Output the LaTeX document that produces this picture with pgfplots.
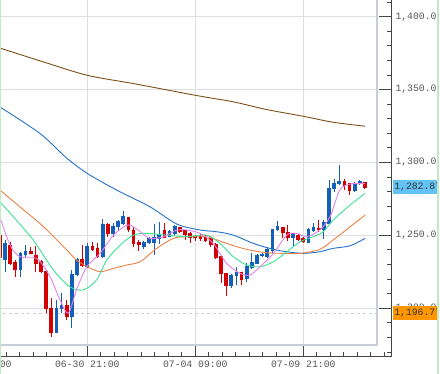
\documentclass[border=0pt]{standalone}
\usepackage{pgfplots}
\pgfplotsset{compat=1.18}
\usepackage{pgfplotstable}
\usepackage{fontspec}
\setmonofont{Liberation Mono}

\definecolor{cblue}{RGB}{20,95,185}
\definecolor{cred}{RGB}{210,0,0}
\definecolor{maBrown}{RGB}{125,80,25}
\definecolor{maBlue}{RGB}{35,115,205}
\definecolor{maOrange}{RGB}{235,130,70}
\definecolor{maGreen}{RGB}{60,225,150}
\definecolor{maPink}{RGB}{230,130,235}
\definecolor{gridc}{RGB}{222,222,222}
\definecolor{framec}{RGB}{200,206,216}
\definecolor{axisgray}{RGB}{70,70,70}
\definecolor{labelgray}{RGB}{85,85,85}
\definecolor{tagBlue}{RGB}{100,195,245}
\definecolor{tagOrange}{RGB}{255,150,0}
\definecolor{stripc}{RGB}{195,235,195}

% up (blue) candles
\pgfplotstableread{
i o h l c
5 1233.1 1246.8 1225.1 1244.5
8 1226.2 1238.8 1221.7 1237.7
9 1236.5 1243.3 1235.4 1239.3
15 1183.0 1206.0 1183.0 1200.0
16 1200.0 1210.7 1197.0 1202.3
18 1194.3 1226.3 1186.3 1223.5
19 1222.8 1234.2 1222.0 1233.6
21 1228.5 1245.0 1227.4 1242.2
24 1235.4 1261.2 1234.2 1257.8
26 1251.4 1258.7 1248.6 1256.4
27 1255.9 1260.5 1253.7 1259.4
28 1257.8 1266.9 1257.1 1262.8
32 1242.2 1246.0 1241.0 1245.0
33 1245.0 1249.0 1244.0 1247.7
34 1245.2 1258.0 1236.5 1248.4
35 1247.9 1258.9 1243.8 1250.9
37 1249.1 1253.7 1248.6 1253.0
38 1251.4 1257.0 1250.2 1255.9
49 1215.3 1223.5 1213.7 1222.8
50 1222.1 1228.5 1216.0 1224.4
52 1220.5 1230.8 1218.3 1228.5
53 1227.9 1238.1 1226.7 1231.7
54 1230.8 1237.2 1230.4 1236.5
55 1236.0 1237.7 1235.4 1236.8
56 1235.4 1241.8 1234.2 1240.4
57 1239.5 1254.5 1237.7 1254.1
58 1253.7 1260.0 1253.0 1255.9
61 1248.6 1251.8 1242.7 1251.4
64 1245.0 1254.8 1244.5 1254.1
65 1253.2 1258.7 1252.5 1255.5
67 1254.1 1260.5 1247.3 1258.7
68 1258.2 1287.9 1257.8 1282.2
69 1282.2 1288.4 1279.9 1285.6
70 1285.6 1298.2 1284.5 1287.4
73 1280.6 1286.8 1279.9 1285.2
74 1285.2 1287.9 1284.5 1286.8
}\upcandles

% down (red) candles
\pgfplotstableread{
i o h l c
4 1250.0 1253.0 1233.0 1235.0
6 1243.3 1245.6 1229.7 1230.8
7 1231.2 1233.1 1221.7 1226.2
10 1239.3 1242.2 1237.2 1237.7
11 1236.5 1242.7 1225.1 1230.8
12 1232.0 1233.0 1224.0 1225.0
13 1225.0 1226.0 1197.0 1200.0
14 1200.0 1207.0 1180.6 1183.0
17 1202.3 1206.0 1192.0 1194.3
20 1233.6 1243.4 1228.5 1229.0
22 1242.2 1245.7 1239.0 1240.0
23 1241.1 1244.5 1234.2 1235.4
25 1257.8 1258.2 1249.0 1251.4
29 1262.3 1262.8 1252.5 1253.7
30 1253.7 1256.0 1242.2 1244.5
31 1245.0 1246.8 1239.5 1243.4
36 1253.7 1258.7 1248.0 1248.6
39 1255.5 1256.0 1251.4 1252.5
40 1253.7 1254.0 1246.8 1250.2
41 1251.4 1252.0 1244.5 1248.6
42 1249.5 1250.2 1246.3 1248.2
43 1249.1 1251.4 1245.9 1247.7
44 1248.6 1250.2 1245.4 1246.3
45 1247.7 1248.2 1241.8 1243.4
46 1244.1 1245.0 1234.0 1234.7
47 1235.4 1235.8 1217.1 1223.5
48 1224.0 1224.4 1208.4 1215.3
51 1224.4 1225.1 1216.0 1219.9
59 1255.3 1256.0 1247.9 1251.8
60 1252.0 1257.1 1246.3 1248.6
62 1250.2 1251.0 1246.3 1246.8
63 1247.7 1248.6 1244.5 1245.4
66 1255.0 1260.5 1252.5 1253.7
71 1287.4 1288.4 1281.0 1284.2
72 1285.6 1286.0 1277.6 1280.6
75 1286.1 1286.8 1281.5 1282.87
}\downcandles

\begin{document}
\begin{tikzpicture}
\useasboundingbox (0,0) rectangle (440bp,374bp);
\clip (0,0) rectangle (440bp,374bp);
\fill[white] (0,0) rectangle (440bp,374bp);
\begin{axis}[
  at={(-20.7bp,17bp)}, anchor=south west,
  scale only axis, width=412.7bp, height=357bp,
  xmin=0, xmax=80.25, ymin=1166.6, ymax=1411.45,
  axis x line*=bottom, axis y line*=right,
  axis line style={draw=axisgray, line width=1bp},
  xtick={0,21,42,63},
  xticklabels={06-26 09:00,06-30 21:00,07-04 09:00,07-09 21:00},
  minor xtick={2.625,5.25,7.875,10.5,13.125,15.75,18.375,23.625,26.25,28.875,31.5,34.125,36.75,39.375,44.625,47.25,49.875,52.5,55.125,57.75,60.375,65.625,68.25,70.875,73.5,76.125,78.75},
  ytick={1200,1250,1300,1350,1400},
  yticklabels={{1,200.0},{1,250.0},{1,300.0},{1,350.0},{1,400.0}},
  minor ytick={1170,1180,1190,1210,1220,1230,1240,1260,1270,1280,1290,1310,1320,1330,1340,1360,1370,1380,1390,1410},
  tick align=inside,
  major tick length=12.5bp, minor tick length=5bp,
  tick style={draw=axisgray, line width=1bp},
  ticklabel style={font=\ttfamily\fontsize{9.8}{10}\selectfont, text=labelgray},
  clip=true,
]
% grid inside the frame
\foreach \yy in {1200,1250,1300,1350,1400} {
  \edef\temp{\noexpand\draw[gridc, line width=0.9bp] (axis cs:0,\yy) -- (axis cs:77.33,\yy);}
  \temp
}
\foreach \xx in {21,42,63} {
  \edef\temp{\noexpand\draw[gridc, line width=0.9bp] (axis cs:\xx,1174.86) -- (axis cs:\xx,1411.45);}
  \temp
}
% last-low dashed line
\addplot[forget plot, draw={rgb,255:red,205;green,205;blue,205}, line width=0.8bp, dash pattern=on 3bp off 3bp] coordinates {(0,1196.77) (77.33,1196.77)};
% frame
\draw[framec, line width=1.4bp] (axis cs:0,1174.86) -- (axis cs:77.33,1174.86) -- (axis cs:77.33,1411.45);

% candles: wicks
\addplot[forget plot, draw=none, mark=none, error bars/.cd, y dir=minus, y explicit, error mark=none,
  error bar style={draw=cblue, line width=1bp}]
  table[x=i, y=h, y error minus expr=\thisrow{h}-\thisrow{l}] {\upcandles};
\addplot[forget plot, draw=none, mark=none, error bars/.cd, y dir=minus, y explicit, error mark=none,
  error bar style={draw=cred, line width=1bp}]
  table[x=i, y=h, y error minus expr=\thisrow{h}-\thisrow{l}] {\downcandles};
% candles: bodies
\addplot[forget plot, draw=none, mark=none, error bars/.cd, y dir=minus, y explicit, error mark=none,
  error bar style={draw=cblue, line width=3.7bp}]
  table[x=i, y expr=\thisrow{c}+0.25, y error minus expr={max(\thisrow{c}-\thisrow{o},0)+0.5}] {\upcandles};
\addplot[forget plot, draw=none, mark=none, error bars/.cd, y dir=minus, y explicit, error mark=none,
  error bar style={draw=cred, line width=3.7bp}]
  table[x=i, y expr=\thisrow{o}+0.25, y error minus expr={max(\thisrow{o}-\thisrow{c},0)+0.5}] {\downcandles};

% moving averages
\addplot[maBrown, line width=0.9bp, mark=none, smooth, tension=0.5] coordinates {
(4.0,1378.5) (12.45,1369.0) (21.0,1359.8) (30.0,1354.1) (42.0,1346.1) (49.4,1341.6) (55.9,1336.3) (63.0,1331.7) (68.8,1327.6) (75.0,1324.9)};
\addplot[maBlue, line width=0.9bp, mark=none, smooth, tension=0.5] coordinates {
(4.0,1338.1) (11.8,1319.9) (17.0,1303.0) (21.0,1292.5) (26.7,1281.1) (33.2,1269.6) (38.4,1257.8) (42.9,1253.7) (46.2,1252.5) (49.4,1250.2) (53.3,1244.5) (57.2,1240.4) (59.8,1238.8) (63.0,1237.7) (66.2,1238.8) (68.8,1241.1) (72.1,1242.9) (75.0,1247.9)};
\addplot[maOrange, line width=0.9bp, mark=none, smooth, tension=0.5] coordinates {
(4.0,1281.1) (7.9,1269.6) (12.5,1255.9) (17.0,1240.0) (18.9,1233.1) (21.0,1228.5) (23.5,1225.1) (26.1,1227.4) (28.7,1229.7) (31.3,1232.0) (34.5,1241.1) (37.7,1247.9) (40.3,1249.1) (44.2,1249.1) (48.1,1244.5) (52.0,1240.4) (55.9,1238.1) (59.1,1237.7) (62.4,1237.7) (66.2,1240.4) (68.8,1246.8) (72.1,1255.9) (75.0,1263.9)};
\addplot[maGreen, line width=0.9bp, mark=none, smooth, tension=0.5] coordinates {
(4.0,1273.1) (6.6,1262.8) (10.5,1246.8) (14.4,1226.3) (17.6,1214.8) (20.2,1212.6) (22.8,1219.4) (24.8,1233.1) (27.4,1243.4) (29.96,1250.2) (32.5,1251.4) (36.4,1250.2) (40.3,1249.1) (44.2,1250.2) (46.8,1244.5) (49.4,1235.4) (52.0,1229.7) (54.6,1228.5) (57.2,1232.0) (59.8,1238.8) (62.4,1245.7) (64.9,1249.1) (66.9,1252.5) (68.8,1260.5) (72.1,1270.8) (75.0,1278.8)};
\addplot[maPink, line width=0.9bp, mark=none, smooth, tension=0.5] coordinates {
(4.0,1262.8) (5.97,1243.4) (7.9,1235.4) (11.16,1234.2) (13.75,1221.7) (15.7,1205.7) (17.3,1196.6) (18.9,1212.6) (20.9,1228.5) (23.5,1237.7) (26.1,1250.2) (28.7,1257.1) (29.96,1255.9) (31.3,1252.5) (33.2,1247.9) (35.8,1249.1) (38.4,1253.7) (40.3,1253.7) (42.9,1251.4) (45.5,1244.5) (48.1,1230.8) (50.7,1224.0) (52.6,1222.8) (54.6,1228.5) (57.2,1237.7) (59.8,1250.2) (61.7,1251.4) (63.7,1249.1) (66.2,1253.7) (68.2,1262.8) (70.1,1281.1) (72.1,1285.2) (75.0,1285.6)};

\coordinate (tagA) at (axis cs:80.25,1282.87);
\coordinate (tagB) at (axis cs:80.25,1196.77);
\end{axis}
\node[anchor=west, fill=tagBlue, inner sep=1.5bp, minimum height=14bp, text=black!80,
  font=\ttfamily\fontsize{9.8}{10}\selectfont] at ([xshift=0.6bp]tagA) {1,282.87};
\node[anchor=west, fill=tagOrange, inner sep=1.5bp, minimum height=13.6bp, text=black!80,
  font=\ttfamily\fontsize{9.8}{10}\selectfont] at ([xshift=0.6bp]tagB) {1,196.77};
\fill[stripc] (437.3bp,0) rectangle (439bp,374bp);
\fill[white] (439bp,0) rectangle (440bp,374bp);
\fill[stripc] (0,0) rectangle (1.2bp,374bp);
\end{tikzpicture}
\end{document}
